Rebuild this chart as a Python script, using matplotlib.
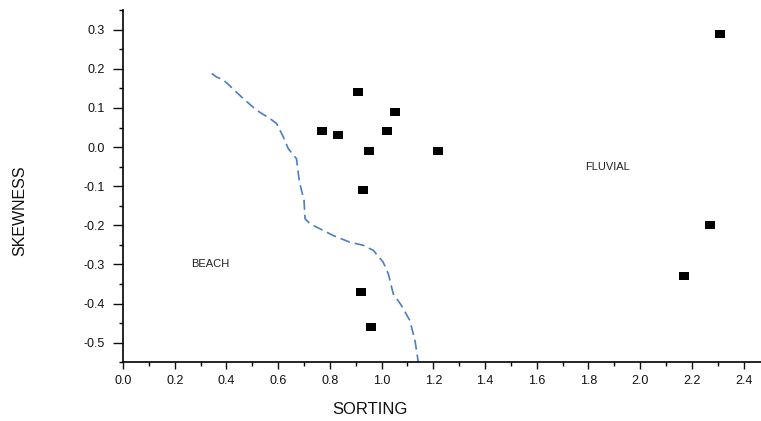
import matplotlib
matplotlib.use("Agg")
import matplotlib.pyplot as plt
from matplotlib.ticker import MultipleLocator, FormatStrFormatter

plt.rcParams['font.family'] = ['Liberation Sans', 'DejaVu Sans']

# sample points
sorting = [0.77, 0.83, 0.91, 0.95, 1.02, 1.05, 1.22, 0.93, 0.92, 0.96, 2.31, 2.27, 2.17]
skewness = [0.04, 0.03, 0.14, -0.01, 0.04, 0.09, -0.01, -0.11, -0.37, -0.46, 0.29, -0.20, -0.33]

# beach / fluvial boundary
line_x = [0.343, 0.362, 0.388, 0.465, 0.517, 0.568, 0.594, 0.620, 0.639, 0.671, 0.678,
          0.684, 0.700, 0.704, 0.723, 0.762, 0.813, 0.877, 0.929, 0.968, 1.006, 1.026,
          1.045, 1.077, 1.109, 1.129, 1.142]
line_y = [0.188, 0.179, 0.172, 0.124, 0.094, 0.073, 0.060, 0.026, -0.004, -0.030, -0.068,
          -0.094, -0.136, -0.183, -0.196, -0.209, -0.226, -0.243, -0.251, -0.264, -0.294, -0.324,
          -0.375, -0.405, -0.443, -0.494, -0.550]

fig = plt.figure(figsize=(7.61, 4.21), dpi=100)
ax = fig.add_axes([0.1616, 0.1394, 0.8384, 0.8366])

ax.plot(line_x, line_y, color='#4a7fc0', lw=1.2, dashes=(6, 3))
rect = [(-1.43, -1), (1.43, -1), (1.43, 1), (-1.43, 1), (-1.43, -1)]
ax.plot(sorting, skewness, ls='none', marker=rect, ms=7.4, mew=0, color='black')

ax.text(0.337, -0.30, 'BEACH', fontsize=8, ha='center', va='center', color='#222222')
ax.text(1.875, -0.052, 'FLUVIAL', fontsize=8, ha='center', va='center', color='#222222')

ax.set_xlim(0, 2.467)
ax.set_ylim(-0.55, 0.35)
ax.xaxis.set_major_locator(MultipleLocator(0.2))
ax.xaxis.set_minor_locator(MultipleLocator(0.1))
ax.yaxis.set_minor_locator(MultipleLocator(0.05))
ax.xaxis.set_major_formatter(FormatStrFormatter('%.1f'))
ax.set_yticks([-0.5, -0.4, -0.3, -0.2, -0.1, 0.0, 0.1, 0.2, 0.3])
ax.set_yticklabels(['-0.5', '-0.4', '-0.3', '-0.2', '-0.1', '0.0', '0.1', '0.2', '0.3'])
ax.tick_params(which='major', width=1, labelsize=9, direction='out', colors='#111111')
ax.tick_params(which='minor', length=3, width=1, direction='out')
ax.tick_params(axis='x', which='major', length=5, pad=4)
ax.tick_params(axis='y', which='major', length=7, pad=6)

for s in ['top', 'right']:
    ax.spines[s].set_visible(False)
for s in ['left', 'bottom']:
    ax.spines[s].set_linewidth(1.2)

fig.text(0.486, 0.0285, 'SORTING', fontsize=12, ha='center', va='center', color='#111111')
fig.text(0.026, 0.499, 'SKEWNESS', fontsize=11.5, rotation=90, ha='center', va='center',
         color='#111111')

fig.savefig('out.png', dpi=100)
